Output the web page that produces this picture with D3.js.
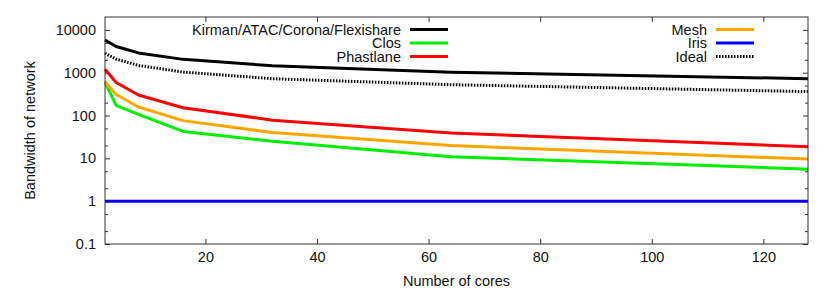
<!DOCTYPE html>
<html><head><meta charset="utf-8">
<script src="https://cdn.jsdelivr.net/npm/d3@7"></script>
<style>body{margin:0;background:#fff}svg{display:block}text{font-family:"Liberation Sans",Arial,sans-serif;fill:#111}</style>
</head><body><svg id="c" width="830" height="291"></svg>
<script>
const cores = [2, 4, 8, 16, 32, 64, 128];
const kirman = [5790, 4100, 2900, 2050, 1450, 1030, 724];
const clos = [610, 172, 106, 42.5, 25, 10.9, 5.6];
const phastlane = [1200, 590, 302, 152, 78, 39, 18.7];
const mesh = [614, 310, 158, 76, 40, 20, 9.6];
const iris = [1, 1, 1, 1, 1, 1, 1];
const ideal = [2850, 2080, 1480, 1035, 724, 525, 362];
const xTicks = [20, 40, 60, 80, 100, 120];
const yTicks = [0.1, 1, 10, 100, 1000, 10000];
const yTickLabels = ["0.1", "1", "10", "100", "1000", "10000"];
const seriesNames = ["Kirman/ATAC/Corona/Flexishare", "Clos", "Phastlane", "Mesh", "Iris", "Ideal"];
const seriesValues = [kirman, clos, phastlane, mesh, iris, ideal];
const seriesColors = ["#000000", "#00ee00", "#ff0000", "#ffa500", "#0000ff", "#000000"];

const FS = 14.5;
const svg = d3.select("#c");
const m = {l:105, r:22, t:17, b:47};
const W = 830, H = 291;
const x = d3.scaleLinear().domain([2,128]).range([m.l, W-m.r]);
const y = d3.scaleLog().domain([0.1, 20000]).range([H-m.b, m.t]);

// minor ticks
const minor = [];
for (let e=-1; e<=4; e++) for (const k of [2,5]) { const v = k*Math.pow(10,e); if (v < 20000) minor.push(v); }

const g = svg.append("g");
const tickColor = "#333";
// left axis
const ax = g.append("g").attr("transform",`translate(${m.l},0)`)
  .call(d3.axisLeft(y).tickValues(yTicks).tickFormat((d,i)=>yTickLabels[i]).tickSizeInner(-5).tickSizeOuter(0).tickPadding(9));
ax.selectAll("text").attr("font-size", FS);
g.append("g").attr("transform",`translate(${m.l},0)`)
  .call(d3.axisLeft(y).tickValues(minor).tickFormat("").tickSizeInner(-3).tickSizeOuter(0));
// right axis mirror
g.append("g").attr("transform",`translate(${W-m.r},0)`)
  .call(d3.axisRight(y).tickValues(yTicks).tickFormat("").tickSizeInner(-5).tickSizeOuter(0));
g.append("g").attr("transform",`translate(${W-m.r},0)`)
  .call(d3.axisRight(y).tickValues(minor).tickFormat("").tickSizeInner(-3).tickSizeOuter(0));
// bottom axis
const bx = g.append("g").attr("transform",`translate(0,${H-m.b})`)
  .call(d3.axisBottom(x).tickValues(xTicks).tickSizeInner(-5).tickSizeOuter(0).tickPadding(8));
bx.selectAll("text").attr("font-size", FS);
// top mirror
g.append("g").attr("transform",`translate(0,${m.t})`)
  .call(d3.axisTop(x).tickValues(xTicks).tickFormat("").tickSizeInner(-5).tickSizeOuter(0));
g.selectAll(".domain").remove();
g.selectAll(".tick line").attr("stroke", tickColor);

// lines
const line = d3.line().x((d,i)=>x(cores[i])).y(d=>y(d));
seriesValues.forEach((vals,i)=>{
  const p = svg.append("path").datum(vals).attr("d", line).attr("fill","none")
    .attr("stroke", seriesColors[i]).attr("stroke-width", 3).attr("stroke-linejoin","round");
  if (seriesNames[i]==="Ideal") p.attr("stroke-dasharray","1.5,1.5").attr("stroke-linejoin","miter");
});

// border
svg.append("rect").attr("x",m.l).attr("y",m.t).attr("width",W-m.l-m.r).attr("height",H-m.t-m.b)
  .attr("fill","none").attr("stroke",tickColor).attr("stroke-width",1);

// legend
const legCols = [{textX:401, x1:410, x2:448}, {textX:707, x1:716, x2:754}];
const legRows = [29.5, 43, 56.5];
seriesNames.forEach((name,i)=>{
  const c = legCols[Math.floor(i/3)], ry = legRows[i%3];
  svg.append("text").attr("x",c.textX).attr("y",ry).attr("dy","0.35em").attr("text-anchor","end")
    .attr("font-size",FS).text(name);
  const l = svg.append("line").attr("x1",c.x1).attr("x2",c.x2).attr("y1",ry).attr("y2",ry)
    .attr("stroke",seriesColors[i]).attr("stroke-width",3);
  if (name==="Ideal") l.attr("stroke-dasharray","1.5,1.5");
});

// axis titles
svg.append("text").attr("x",(m.l+W-m.r)/2).attr("y",281).attr("dy","0.35em").attr("text-anchor","middle")
  .attr("font-size",FS).text("Number of cores");
svg.append("text").attr("transform",`translate(30,${(m.t+H-m.b)/2}) rotate(-90)`).attr("dy","0.35em")
  .attr("text-anchor","middle").attr("font-size",FS).text("Bandwidth of network");
</script></body></html>
